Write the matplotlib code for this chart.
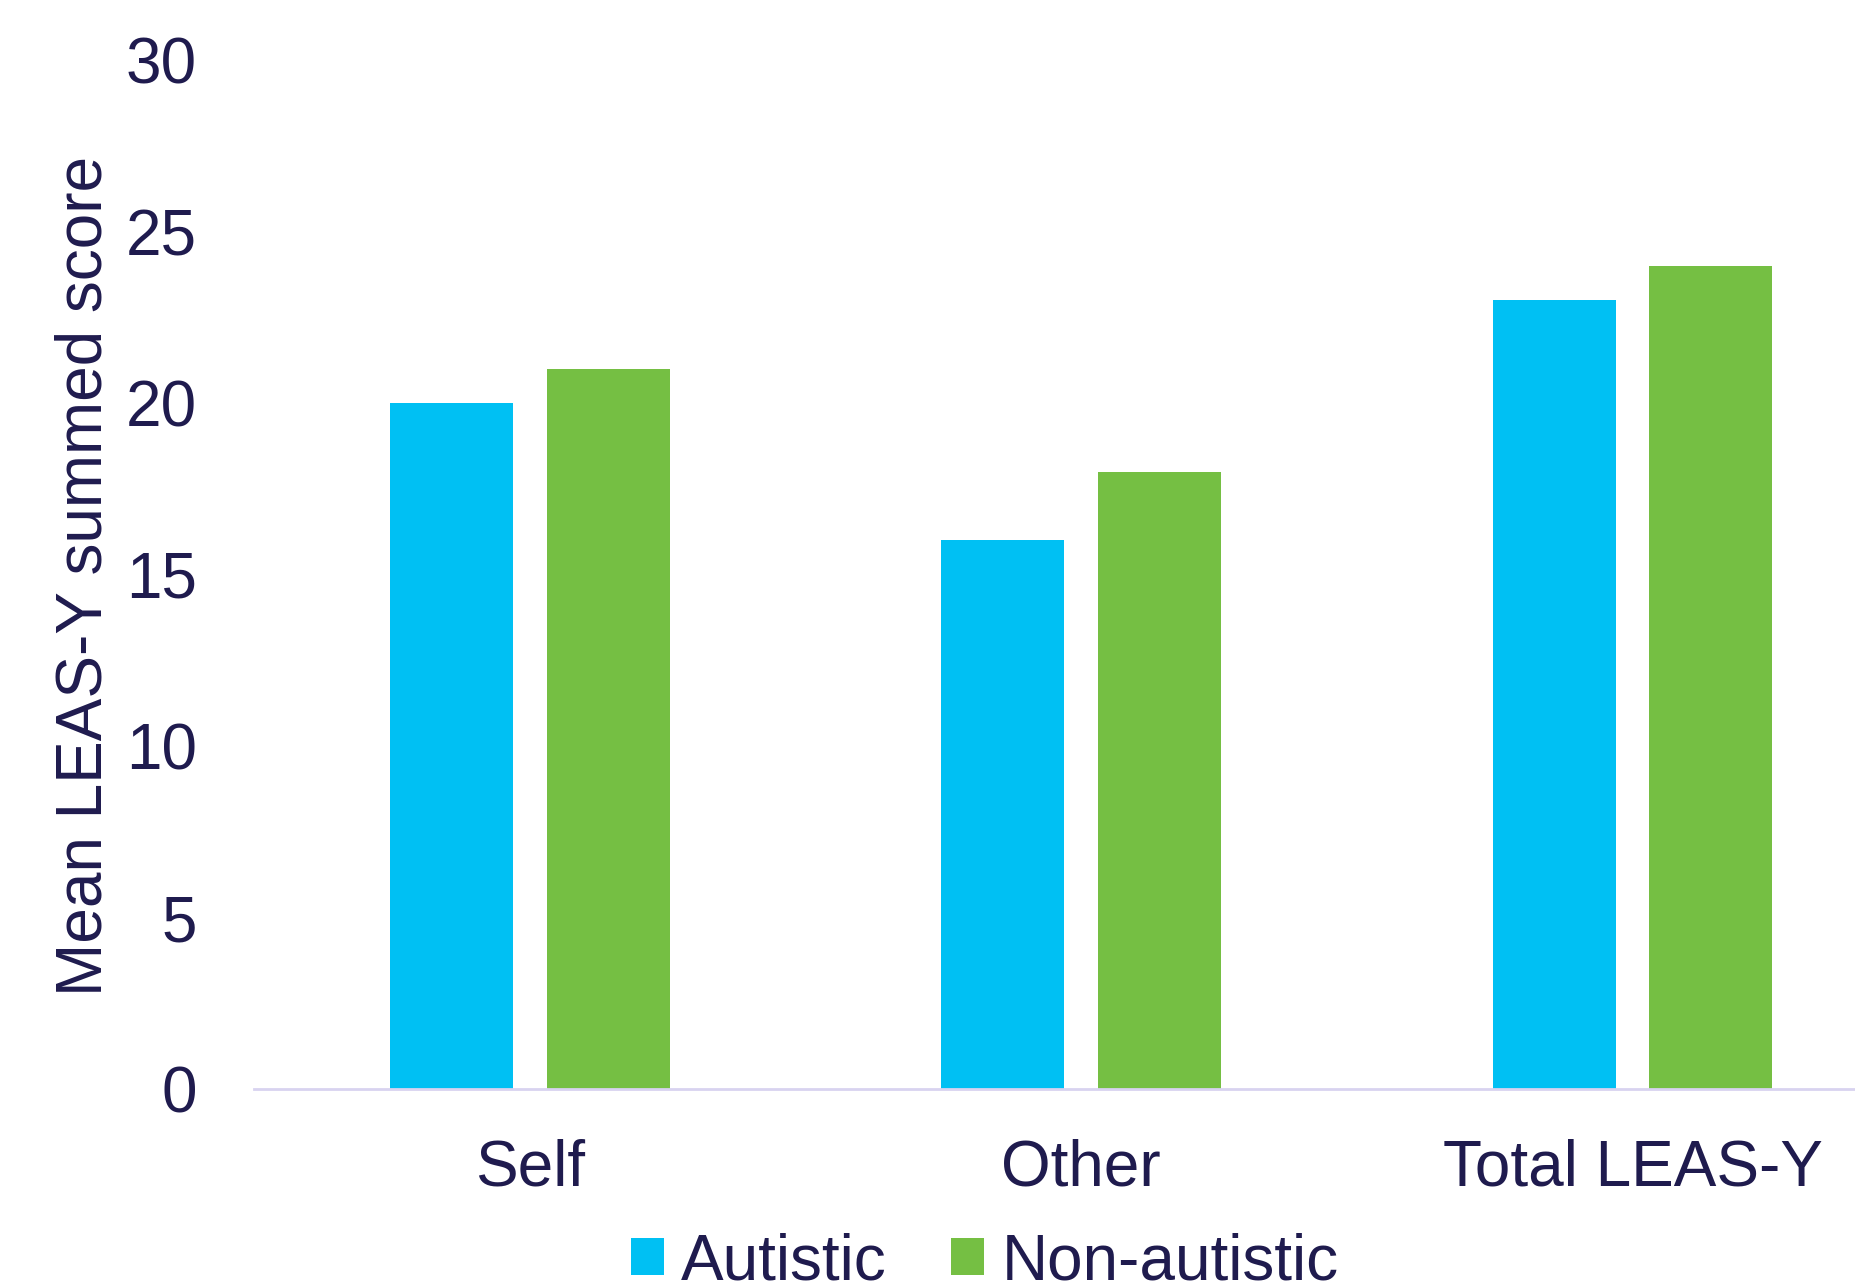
import matplotlib
matplotlib.use("Agg")
import matplotlib.pyplot as plt
import numpy as np

# Datos del gráfico
categorias = ["Self", "Other", "Total LEAS-Y"]
autistas = [20, 16, 23]
no_autistas = [21, 18, 24]
series = ["Autistic", "Non-autistic"]
yticks = [0, 5, 10, 15, 20, 25, 30]

color_texto = '#1F1B4E'
color_azul = '#00C0F3'
color_verde = '#75BF43'

plt.rcParams['font.family'] = ['Liberation Sans', 'DejaVu Sans']

fig = plt.figure(figsize=(18.56, 12.84), dpi=100)
ax = fig.add_axes([254 / 1856, 1 - 1089 / 1284, 1 - 254 / 1856, (1089 - 60) / 1284])

x = np.arange(len(categorias))
ancho = 0.223
desp = 0.142
b1 = ax.bar(x - desp, autistas, ancho, color=color_azul, label=series[0])
b2 = ax.bar(x + desp, no_autistas, ancho, color=color_verde, label=series[1])

ax.set_xlim(-0.5, 2.405)
ax.set_ylim(0, 30)
ax.set_yticks(yticks)
ax.set_xticks(x)
ax.set_xticklabels(categorias)

# Estilo: sin bordes salvo el eje inferior
for lado in ['top', 'right', 'left']:
    ax.spines[lado].set_visible(False)
ax.spines['bottom'].set_color('#D8D3F0')
ax.spines['bottom'].set_linewidth(2)
ax.tick_params(axis='y', length=0, pad=41, labelsize=46, colors=color_texto)
ax.tick_params(axis='x', length=0, pad=36, labelsize=46, colors=color_texto)

fig.text(85 / 1856, 1 - 576 / 1284, "Mean LEAS-Y summed score", rotation=90,
         ha='center', va='center', fontsize=46, color=color_texto)

fig.legend(handles=[b1, b2], loc='center', bbox_to_anchor=(0.5305, 1 - 1262 / 1284),
           ncol=2, frameon=False, fontsize=46, labelcolor=color_texto,
           handlelength=0.52, handleheight=0.52, handletextpad=0.27,
           columnspacing=1.0, borderpad=0, borderaxespad=0)

fig.savefig("out.png", dpi=100)
